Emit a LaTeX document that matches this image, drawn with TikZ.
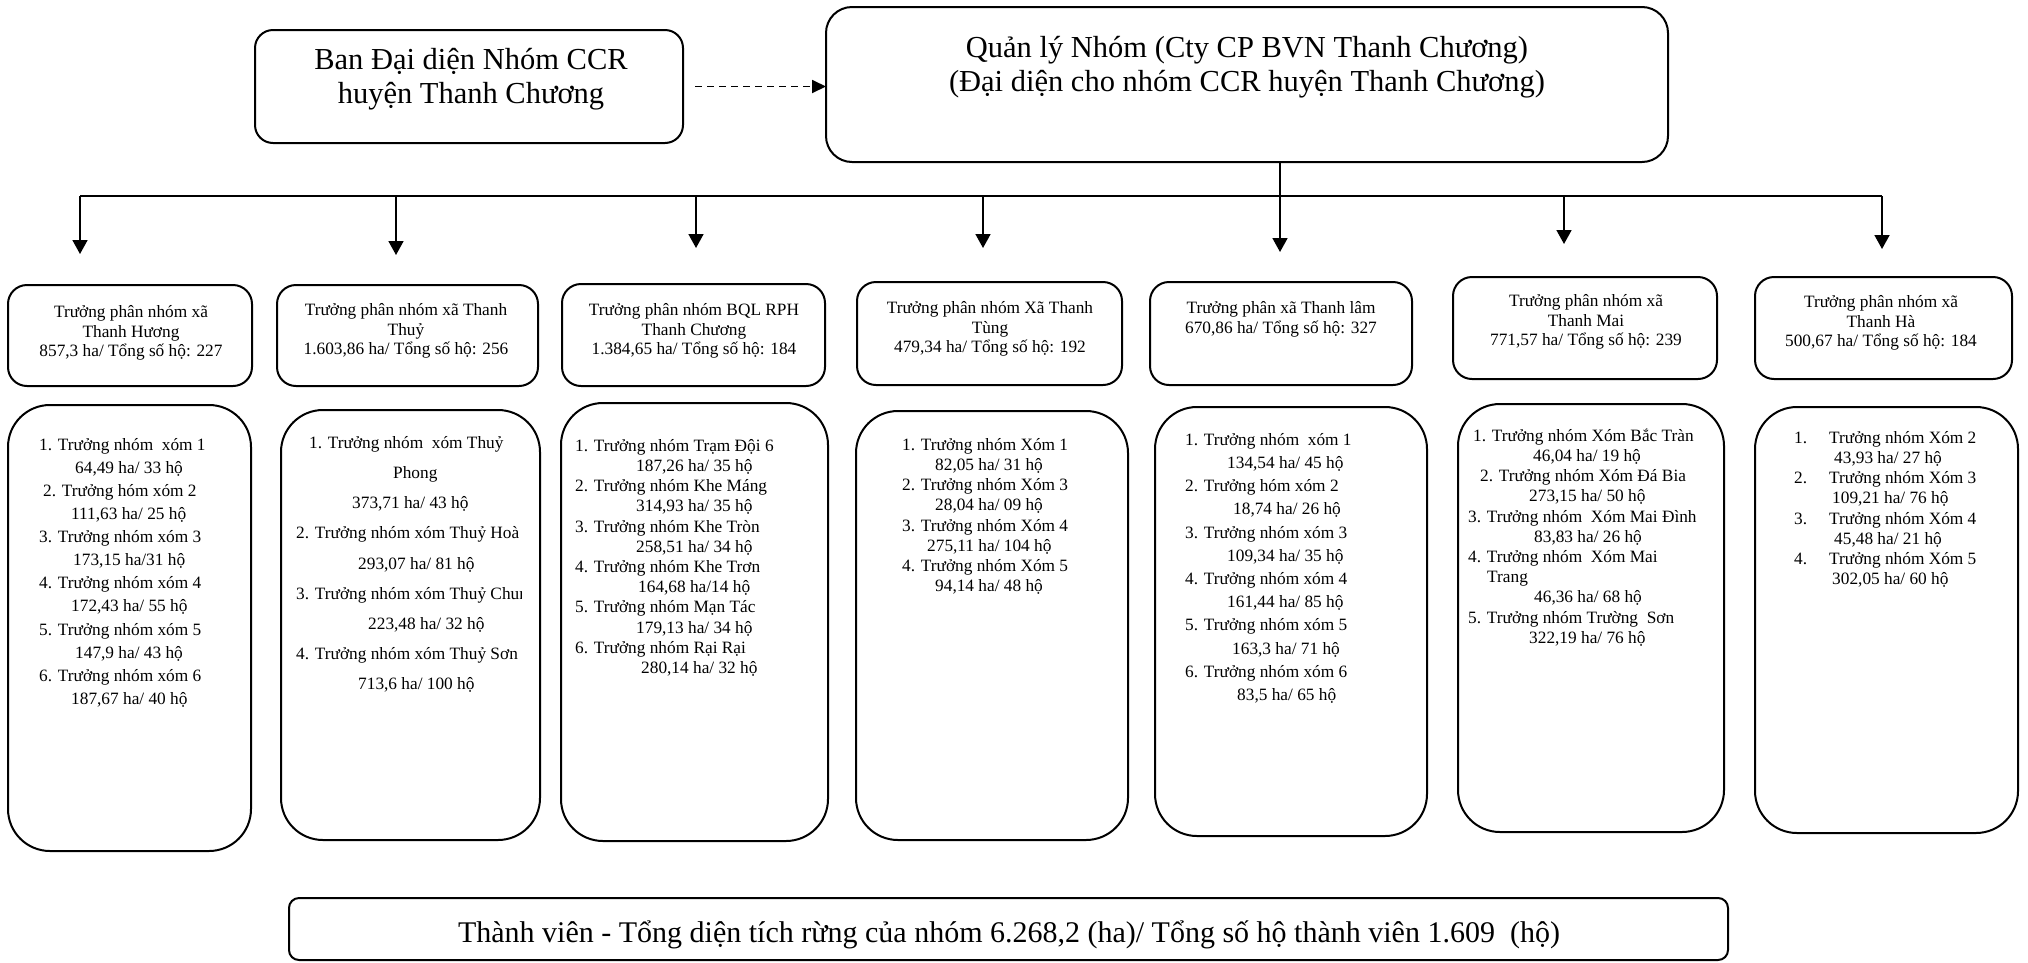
\documentclass[tikz,border=0pt]{standalone}
\usepackage{fontspec}
\setmainfont{Liberation Serif}
\usetikzlibrary{arrows.meta}
\newcommand{\fr}{\rule{0pt}{18pt}}
\newcommand{\frb}{\rule{0pt}{32pt}}
\tikzset{
  bx/.style={draw, line width=2pt, inner sep=0pt, outer sep=0pt},
  bigbox/.style={bx, rounded corners=18pt},
  topbox/.style={bx, rounded corners=19pt},
  lowbox/.style={bx, rounded corners=42pt},
  totbox/.style={bx, rounded corners=10pt},
  bigtxt/.style={inner sep=0pt, align=center, font=\fontsize{30.5}{34.5}\selectfont},
  toptxt/.style={inner sep=0pt, anchor=north, align=center, font=\fontsize{17.3}{19.8}\selectfont},
  lowtxt/.style={inner sep=0pt, anchor=north west, align=left, font=\fontsize{17.3}{#1}\selectfont},
  ln/.style={line width=1.7pt},
  conn/.style={line width=1.7pt, -{Triangle[width=15pt,length=14pt]}},
  dconn/.style={line width=1.8pt, dash pattern=on 7pt off 5pt, -{Triangle[width=13pt,length=14pt]}}
}
\begin{document}
\begin{tikzpicture}[x=1pt,y=-1pt]
\useasboundingbox (0,0) rectangle (2028,962);

% top boxes
\node[bigbox, minimum width=428pt, minimum height=113pt] (ban) at (469,86.5) {};
\node[bigtxt, anchor=north] (bantxt) at (471,37) {\frb Ban Đại diện Nhóm CCR\\huyện Thanh Chương};
\node[bx, rounded corners=26pt, minimum width=842pt, minimum height=155pt] (qly) at (1247,84.5) {};
\node[bigtxt, anchor=north] (qlytxt) at (1247,25) {\frb Quản lý Nhóm (Cty CP BVN Thanh Chương)\\(Đại diện cho nhóm CCR huyện Thanh Chương)};

\draw[dconn] ([xshift=12pt]ban.east) -- (ban.east -| qly.west);

% row of sub-group heads
\node[topbox, minimum width=244pt, minimum height=101pt] (t1) at (130,335.5) {};
\node[topbox, minimum width=261pt, minimum height=101pt] (t2) at (407.5,335.5) {};
\node[topbox, minimum width=263pt, minimum height=102pt] (t3) at (693.5,335) {};
\node[topbox, minimum width=265pt, minimum height=103pt] (t4) at (989.5,333.5) {};
\node[topbox, minimum width=262pt, minimum height=103pt] (t5) at (1281,333.5) {};
\node[topbox, minimum width=264pt, minimum height=102pt] (t6) at (1585,328) {};
\node[topbox, minimum width=257pt, minimum height=102pt] (t7) at (1883.5,328) {};

\node[toptxt] (t1txt) at (131,299) {\fr Trưởng phân nhóm xã\\Thanh Hương\\857,3 ha/ Tổng số hộ: 227};
\node[toptxt] (t2txt) at (406,297) {\fr Trưởng phân nhóm xã Thanh\\Thuỷ\\1.603,86 ha/ Tổng số hộ: 256};
\node[toptxt] (t3txt) at (694,297) {\fr Trưởng phân nhóm BQL RPH\\Thanh Chương\\1.384,65 ha/ Tổng số hộ: 184};
\node[toptxt] (t4txt) at (990,295) {\fr Trưởng phân nhóm Xã Thanh\\Tùng\\479,34 ha/ Tổng số hộ: 192};
\node[toptxt] (t5txt) at (1281,295) {\fr Trưởng phân xã Thanh lâm\\670,86 ha/ Tổng số hộ: 327};
\node[toptxt] (t6txt) at (1586,288) {\fr Trưởng phân nhóm xã\\Thanh Mai\\771,57 ha/ Tổng số hộ: 239};
\node[toptxt] (t7txt) at (1881,289) {\fr Trưởng phân nhóm xã\\Thanh Hà\\500,67 ha/ Tổng số hộ: 184};

% connectors
\coordinate (bL) at (80,196);
\coordinate (bR) at (1882,196);
\coordinate (a1) at (80,254);
\coordinate (a2) at (396,255);
\coordinate (a3) at (696,248);
\coordinate (a4) at (983,248);
\coordinate (a5) at (1280,252);
\coordinate (a6) at (1564,244);
\coordinate (a7) at (1882,249);
\draw[ln] (bL) -- (bR);
\draw[conn] (bL) -- (a1);
\draw[conn] (a2 |- bL) -- (a2);
\draw[conn] (a3 |- bL) -- (a3);
\draw[conn] (a4 |- bL) -- (a4);
\draw[conn] (qly.south -| a5) -- (a5);
\draw[conn] (a6 |- bL) -- (a6);
\draw[conn] (bR) -- (a7);

% lower boxes
\node[lowbox, minimum width=243pt, minimum height=446pt] (l1) at (129.5,628) {};
\node[lowbox, minimum width=259pt, minimum height=430pt] (l2) at (410.5,625) {};
\node[lowbox, minimum width=267pt, minimum height=438pt] (l3) at (694.5,622) {};
\node[lowbox, minimum width=272pt, minimum height=429pt] (l4) at (992,625.5) {};
\node[lowbox, minimum width=272pt, minimum height=429pt] (l5) at (1291,621.5) {};
\node[lowbox, minimum width=266pt, minimum height=428pt] (l6) at (1591,618) {};
\node[lowbox, minimum width=263pt, minimum height=426pt] (l7) at (1886.5,620) {};

\node[lowtxt=23.1] (l1txt) at (39,432) {\fr 1. Trưởng nhóm\ \ xóm 1\\
\hspace*{36pt}64,49 ha/ 33 hộ\\
\hspace*{4pt}2. Trưởng hóm xóm 2\\
\hspace*{32pt}111,63 ha/ 25 hộ\\
3. Trưởng nhóm xóm 3\\
\hspace*{34pt}173,15 ha/31 hộ\\
4. Trưởng nhóm xóm 4\\
\hspace*{32pt}172,43 ha/ 55 hộ\\
5. Trưởng nhóm xóm 5\\
\hspace*{36pt}147,9 ha/ 43 hộ\\
6. Trưởng nhóm xóm 6\\
\hspace*{32pt}187,67 ha/ 40 hộ};

\begin{scope}
\clip (281,400) rectangle (521,850);
\node[lowtxt=30.2] (l2txt) at (296,430) {\fr\hspace*{13pt}1. Trưởng nhóm\ \ xóm Thuỷ\\
\hspace*{97pt}Phong\\
\hspace*{56pt}373,71 ha/ 43 hộ\\
2. Trưởng nhóm xóm Thuỷ Hoà\\
\hspace*{62pt}293,07 ha/ 81 hộ\\
3. Trưởng nhóm xóm Thuỷ Chun\\
\hspace*{72pt}223,48 ha/ 32 hộ\\
4. Trưởng nhóm xóm Thuỷ Sơn\\
\hspace*{62pt}713,6 ha/ 100 hộ};
\end{scope}

\node[lowtxt=20.2] (l3txt) at (575,433) {\fr 1. Trưởng nhóm Trạm Đội 6\\
\hspace*{61pt}187,26 ha/ 35 hộ\\
2. Trưởng nhóm Khe Máng\\
\hspace*{61pt}314,93 ha/ 35 hộ\\
3. Trưởng nhóm Khe Tròn\\
\hspace*{61pt}258,51 ha/ 34 hộ\\
4. Trưởng nhóm Khe Trơn\\
\hspace*{63pt}164,68 ha/14 hộ\\
5. Trưởng nhóm Mạn Tác\\
\hspace*{61pt}179,13 ha/ 34 hộ\\
6. Trưởng nhóm Rại Rại\\
\hspace*{66pt}280,14 ha/ 32 hộ};

\node[lowtxt=20.2] (l4txt) at (902,432) {\fr 1. Trưởng nhóm Xóm 1\\
\hspace*{33pt}82,05 ha/ 31 hộ\\
2. Trưởng nhóm Xóm 3\\
\hspace*{33pt}28,04 ha/ 09 hộ\\
3. Trưởng nhóm Xóm 4\\
\hspace*{25pt}275,11 ha/ 104 hộ\\
4. Trưởng nhóm Xóm 5\\
\hspace*{33pt}94,14 ha/ 48 hộ};

\node[lowtxt=23.2] (l5txt) at (1185,427) {\fr 1. Trưởng nhóm\ \ xóm 1\\
\hspace*{42pt}134,54 ha/ 45 hộ\\
2. Trưởng hóm xóm 2\\
\hspace*{48pt}18,74 ha/ 26 hộ\\
3. Trưởng nhóm xóm 3\\
\hspace*{42pt}109,34 ha/ 35 hộ\\
4. Trưởng nhóm xóm 4\\
\hspace*{42pt}161,44 ha/ 85 hộ\\
5. Trưởng nhóm xóm 5\\
\hspace*{47pt}163,3 ha/ 71 hộ\\
6. Trưởng nhóm xóm 6\\
\hspace*{52pt}83,5 ha/ 65 hộ};

\node[lowtxt=20.2] (l6txt) at (1468,423) {\fr\hspace*{5pt}1. Trưởng nhóm Xóm Bắc Tràn\\
\hspace*{65pt}46,04 ha/ 19 hộ\\
\hspace*{12pt}2. Trưởng nhóm Xóm Đá Bia\\
\hspace*{61pt}273,15 ha/ 50 hộ\\
3. Trưởng nhóm\ \ Xóm Mai Đình\\
\hspace*{66pt}83,83 ha/ 26 hộ\\
4. Trưởng nhóm\ \ Xóm Mai\\
\hspace*{19pt}Trang\\
\hspace*{66pt}46,36 ha/ 68 hộ\\
5. Trưởng nhóm Trường\ \ Sơn\\
\hspace*{61pt}322,19 ha/ 76 hộ};

\node[lowtxt=20.2] (l7txt) at (1794,425) {\fr\makebox[35pt][l]{1.}Trưởng nhóm Xóm 2\\
\hspace*{40pt}43,93 ha/ 27 hộ\\
\makebox[35pt][l]{2.}Trưởng nhóm Xóm 3\\
\hspace*{38pt}109,21 ha/ 76 hộ\\
\makebox[35pt][l]{3.}Trưởng nhóm Xóm 4\\
\hspace*{40pt}45,48 ha/ 21 hộ\\
\makebox[35pt][l]{4.}Trưởng nhóm Xóm 5\\
\hspace*{38pt}302,05 ha/ 60 hộ};

% total
\node[totbox, minimum width=1439pt, minimum height=62pt] (tot) at (1008.5,929) {};
\node[inner sep=0pt, anchor=base, font=\fontsize{30}{34}\selectfont] (tottxt) at (1009,942) {Thành viên - Tổng diện tích rừng của nhóm 6.268,2 (ha)/ Tổng số hộ thành viên 1.609\ \ (hộ)};
\end{tikzpicture}
\end{document}
